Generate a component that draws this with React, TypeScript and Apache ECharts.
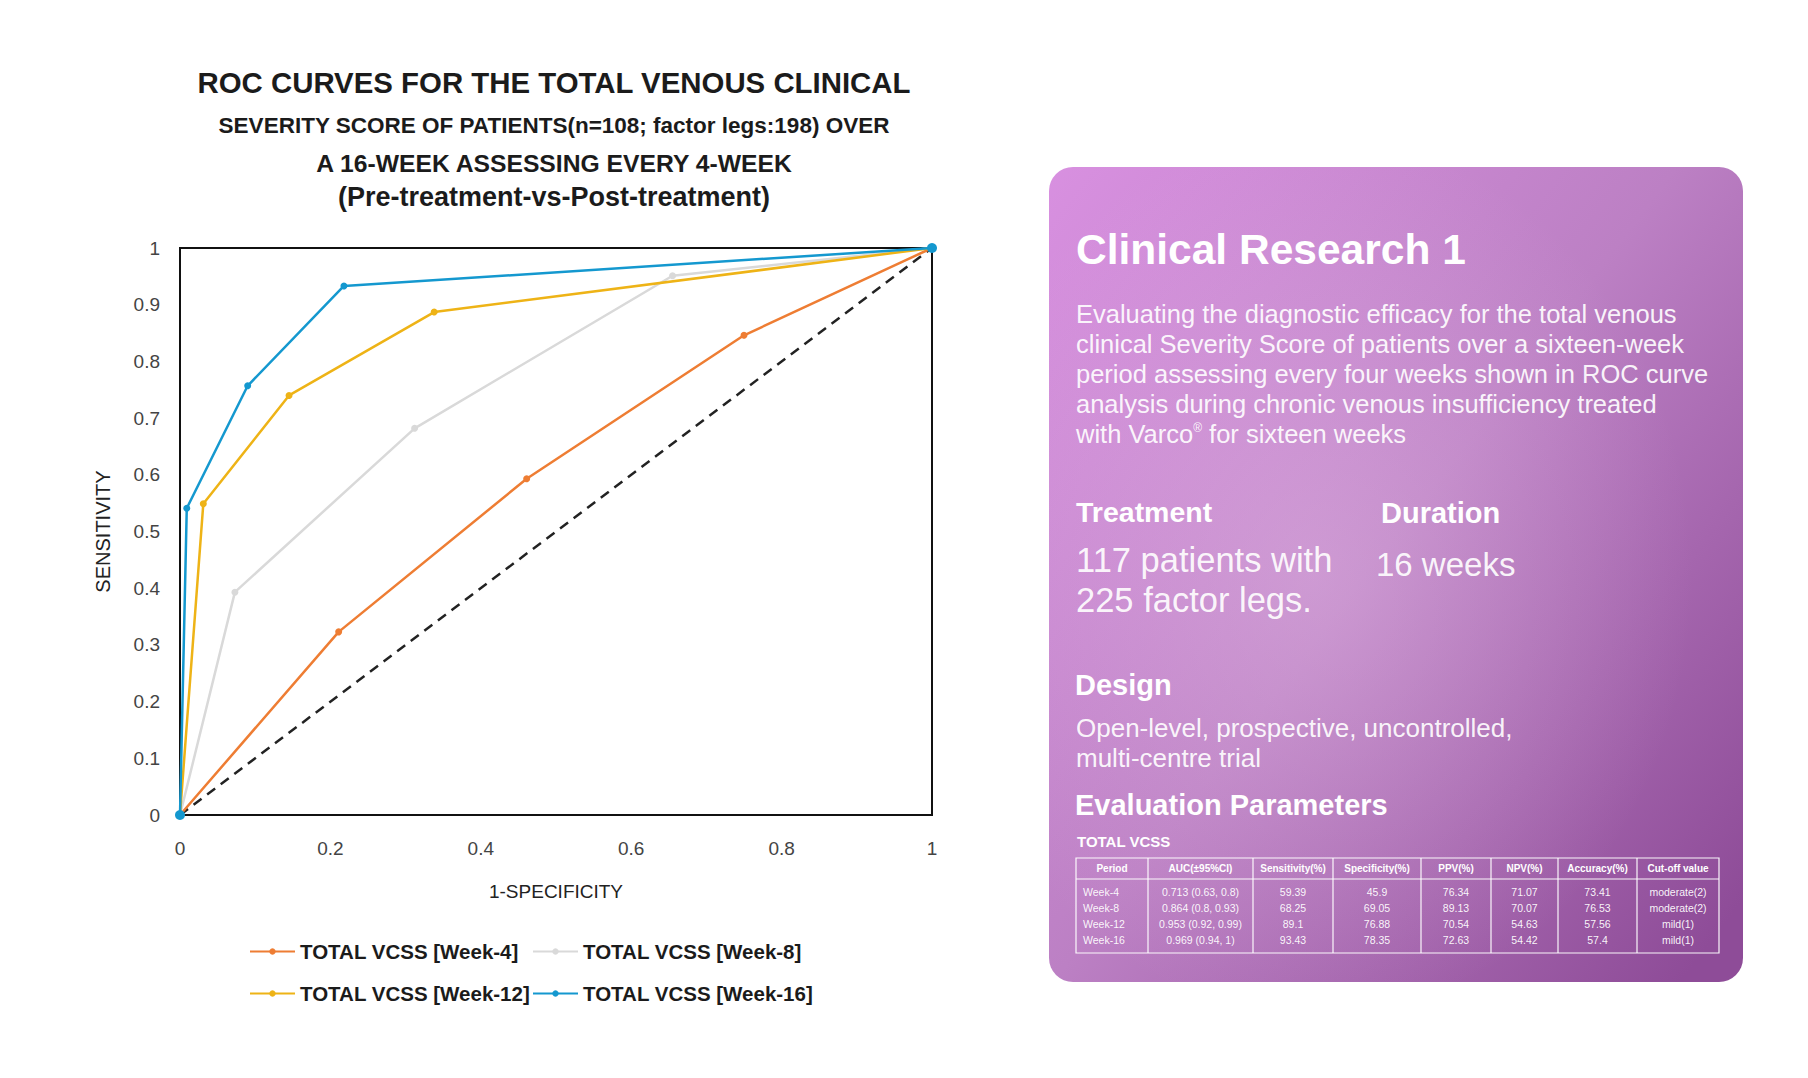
import React, { useEffect, useRef } from "react";
import * as echarts from "echarts";

// ---------- DATA ----------
const seriesNames = [
  "TOTAL VCSS [Week-4]",
  "TOTAL VCSS [Week-8]",
  "TOTAL VCSS [Week-12]",
  "TOTAL VCSS [Week-16]",
];
const week4X = [0, 0.211, 0.461, 0.75, 1];
const week4Y = [0, 0.323, 0.593, 0.846, 1];
const week8X = [0, 0.073, 0.312, 0.655, 1];
const week8Y = [0, 0.393, 0.682, 0.951, 1];
const week12X = [0, 0.031, 0.145, 0.338, 1];
const week12Y = [0, 0.549, 0.74, 0.887, 1];
const week16X = [0, 0.009, 0.09, 0.218, 1];
const week16Y = [0, 0.541, 0.757, 0.933, 1];
const refX = [0, 1];
const refY = [0, 1];
const seriesColors = ["#EE7D33", "#D9D9D9", "#EEB316", "#1498CF"];

const xTickLabels = ["0", "0.2", "0.4", "0.6", "0.8", "1"];
const yTickLabels = ["0", "0.1", "0.2", "0.3", "0.4", "0.5", "0.6", "0.7", "0.8", "0.9", "1"];

const titleLines = [
  "ROC CURVES FOR THE TOTAL VENOUS CLINICAL",
  "SEVERITY SCORE OF PATIENTS(n=108; factor legs:198) OVER",
  "A 16-WEEK ASSESSING EVERY 4-WEEK",
  "(Pre-treatment-vs-Post-treatment)",
];

const cardTitle = "Clinical Research 1";
const cardParagraph = [
  "Evaluating the diagnostic efficacy for the total venous",
  "clinical Severity Score of patients over a sixteen-week",
  "period assessing every four weeks shown in ROC curve",
  "analysis during chronic venous insufficiency treated",
];
const cardParagraphLast = "with Varco{sup|®} for sixteen weeks";
const treatmentLines = ["117 patients with", "225 factor legs."];
const durationText = "16 weeks";
const designLines = ["Open-level, prospective, uncontrolled,", "multi-centre trial"];

const tableHeaders = ["Period", "AUC(±95%CI)", "Sensitivity(%)", "Specificity(%)", "PPV(%)", "NPV(%)", "Accuracy(%)", "Cut-off value"];
const tablePeriods = ["Week-4", "Week-8", "Week-12", "Week-16"];
const tableAUC = ["0.713 (0.63, 0.8)", "0.864 (0.8, 0.93)", "0.953 (0.92, 0.99)", "0.969 (0.94, 1)"];
const tableSens = ["59.39", "68.25", "89.1", "93.43"];
const tableSpec = ["45.9", "69.05", "76.88", "78.35"];
const tablePPV = ["76.34", "89.13", "70.54", "72.63"];
const tableNPV = ["71.07", "70.07", "54.63", "54.42"];
const tableAcc = ["73.41", "76.53", "57.56", "57.4"];
const tableCut = ["moderate(2)", "moderate(2)", "mild(1)", "mild(1)"];

const FONT = "'Liberation Sans', Arial, sans-serif";

function zip(xs: number[], ys: number[]) {
  return xs.map((x, i) => [x, ys[i]]);
}

export default function App() {
  const ref = useRef<HTMLDivElement>(null);
  useEffect(() => {
    document.body.style.margin = "0";
    const chart = echarts.init(ref.current!, null, { renderer: "svg" });

    const xs = [week4X, week8X, week12X, week16X];
    const ys = [week4Y, week8Y, week12Y, week16Y];

    const graphics: any[] = [];
    // Titles
    const titleY = [82, 125, 163, 197];
    const titleSize = [29.4, 22.5, 24.7, 27];
    titleLines.forEach((t, i) => {
      graphics.push({
        type: "text",
        x: 554,
        y: titleY[i],
        style: {
          text: t,
          fill: "#1b1b1b",
          fontSize: titleSize[i],
          fontWeight: "bold",
          fontFamily: FONT,
          align: "center",
          verticalAlign: "middle",
        },
      });
    });

    // Card
    const cx = 1049, cy = 167, cw = 694, ch = 815;
    graphics.push({
      type: "rect",
      shape: { x: cx, y: cy, width: cw, height: ch, r: 24 },
      style: {
        fill: {
          type: "linear",
          x: 0, y: 0, x2: 1, y2: 0.9,
          colorStops: [
            { offset: 0, color: "#D890E0" },
            { offset: 0.5, color: "#BC80C4" },
            { offset: 1, color: "#8E4C98" },
          ],
        },
      },
      z: 0,
    });
    graphics.push({
      type: "rect",
      shape: { x: cx, y: cy, width: cw, height: ch, r: 24 },
      style: {
        fill: {
          type: "radial",
          x: 0.38, y: 0.5, r: 0.55,
          colorStops: [
            { offset: 0, color: "rgba(235,200,235,0.35)" },
            { offset: 1, color: "rgba(235,200,235,0)" },
          ],
        },
      },
      z: 1,
    });
    const white = "#FFFFFF";
    const soft = "rgba(255,255,255,0.93)";
    const addText = (text: string, x: number, y: number, size: number, weight: any, extra: any = {}) => {
      graphics.push({
        type: "text",
        x,
        y,
        z: 5,
        style: {
          text,
          fill: white,
          fontSize: size,
          fontWeight: weight,
          fontFamily: FONT,
          align: "left",
          verticalAlign: "middle",
          ...extra,
        },
      });
    };
    addText(cardTitle, 1076, 249, 42.5, "bold");
    cardParagraph.forEach((l, i) => addText(l, 1076, 314 + i * 30, 25.5, "normal", { fill: soft }));
    addText(cardParagraphLast, 1076, 434, 25.5, "normal", {
      fill: soft,
      rich: { sup: { fontSize: 12, fill: soft, fontFamily: FONT, padding: [0, 0, 13, 0] } },
    });
    addText("Treatment", 1076, 512, 28.5, "bold");
    addText("Duration", 1381, 513, 29, "bold");
    treatmentLines.forEach((l, i) => addText(l, 1076, 560 + i * 40, 34.5, "normal", { fill: soft }));
    addText(durationText, 1376, 564, 33, "normal", { fill: soft });
    addText("Design", 1075, 685, 29, "bold");
    designLines.forEach((l, i) => addText(l, 1076, 728 + i * 30, 26, "normal", { fill: soft }));
    addText("Evaluation Parameters", 1075, 805, 29, "bold");
    addText("TOTAL VCSS", 1077, 841, 15, "bold");

    // Table
    const colX = [1076, 1148, 1253, 1333, 1421, 1491, 1558, 1637, 1719];
    const tTop = 858, tHead = 879, tBot = 953;
    const rowY = [892, 908, 924, 940];
    const lineStyle = { stroke: "rgba(255,255,255,0.95)", lineWidth: 1.2 };
    graphics.push({ type: "rect", z: 5, shape: { x: colX[0], y: tTop, width: colX[8] - colX[0], height: tBot - tTop }, style: { fill: "none", ...lineStyle } });
    graphics.push({ type: "line", z: 5, shape: { x1: colX[0], y1: tHead, x2: colX[8], y2: tHead }, style: lineStyle });
    for (let i = 1; i < colX.length - 1; i++) {
      graphics.push({ type: "line", z: 5, shape: { x1: colX[i], y1: tTop, x2: colX[i], y2: tBot }, style: lineStyle });
    }
    tableHeaders.forEach((h, i) => {
      graphics.push({
        type: "text", z: 6, x: (colX[i] + colX[i + 1]) / 2, y: 868,
        style: { text: h, fill: white, fontSize: 10, fontWeight: "bold", fontFamily: FONT, align: "center", verticalAlign: "middle" },
      });
    });
    const cols = [tablePeriods, tableAUC, tableSens, tableSpec, tablePPV, tableNPV, tableAcc, tableCut];
    cols.forEach((col, ci) => {
      col.forEach((v, ri) => {
        graphics.push({
          type: "text", z: 6,
          x: ci === 0 ? colX[0] + 7 : (colX[ci] + colX[ci + 1]) / 2,
          y: rowY[ri],
          style: {
            text: v, fill: "rgba(255,255,255,0.95)", fontSize: 10.5, fontFamily: FONT,
            align: ci === 0 ? "left" : "center", verticalAlign: "middle",
          },
        });
      });
    });

    const lineSeries = seriesNames.map((name, i) => ({
      name,
      type: "line",
      data: zip(xs[i], ys[i]),
      symbol: "circle",
      symbolSize: i === 3 ? (_v: any, p: any) => (p.dataIndex === 0 || p.dataIndex === 4 ? 10 : 7) : 7,
      itemStyle: { color: seriesColors[i] },
      lineStyle: { color: seriesColors[i], width: 2.5 },
      z: 3 + i,
    }));

    const legendBase = {
      itemWidth: 45,
      itemHeight: 8,
      itemGap: 0,
      textStyle: { fontSize: 20.5, fontWeight: "bold", color: "#1b1b1b", fontFamily: FONT },
    };
    const legendLeft = [244, 527, 244, 527];
    const legendTop = [936, 936, 978, 978];

    chart.setOption({
      animation: false,
      backgroundColor: "#ffffff",
      grid: { left: 180, top: 248, width: 752, height: 567, show: true, borderColor: "#111", borderWidth: 2, backgroundColor: "transparent" },
      xAxis: {
        type: "value", min: 0, max: 1, interval: 0.2,
        axisLine: { show: true, lineStyle: { color: "#111", width: 2 } },
        axisTick: { show: false },
        splitLine: { show: false },
        axisLabel: { formatter: (_v: number, idx: number) => xTickLabels[idx], fontSize: 19, color: "#444", margin: 24, fontFamily: FONT },
        name: "1-SPECIFICITY", nameLocation: "middle", nameGap: 67,
        nameTextStyle: { fontSize: 19, color: "#222", fontFamily: FONT },
      },
      yAxis: {
        type: "value", min: 0, max: 1, interval: 0.1,
        axisLine: { show: true, lineStyle: { color: "#111", width: 2 } },
        axisTick: { show: false },
        splitLine: { show: false },
        axisLabel: { formatter: (_v: number, idx: number) => yTickLabels[idx], fontSize: 19, color: "#444", margin: 20, fontFamily: FONT },
        name: "SENSITIVITY", nameLocation: "middle", nameGap: 67,
        nameTextStyle: { fontSize: 20, color: "#222", fontFamily: FONT },
      },
      legend: seriesNames.map((n, i) => ({
        ...legendBase,
        data: [n],
        left: legendLeft[i],
        top: legendTop[i],
      })),
      series: [
        {
          name: "ref", type: "line", data: zip(refX, refY), symbol: "none", silent: true,
          lineStyle: { color: "#222", width: 2.5, type: [10, 7] }, z: 2,
        },
        ...lineSeries,
      ],
      graphic: graphics,
    });
    return () => chart.dispose();
  }, []);
  return <div ref={ref} style={{ position: "absolute", left: 0, top: 0, width: 1808, height: 1078 }} />;
}
